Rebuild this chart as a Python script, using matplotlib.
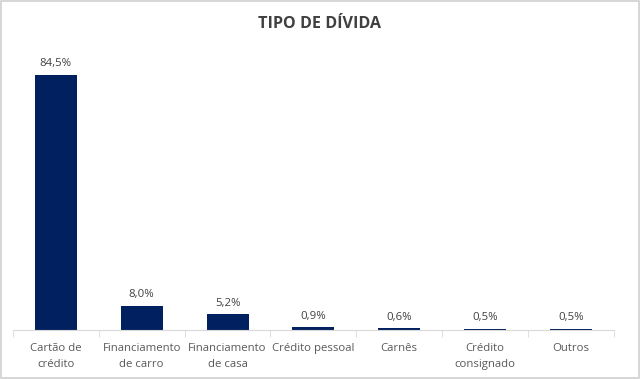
import matplotlib.pyplot as plt
from matplotlib.patches import Rectangle
import numpy as np

plt.rcParams['font.family'] = ['Open Sans', 'DejaVu Sans']

categorias = ['Cartão de\ncrédito', 'Financiamento\nde carro', 'Financiamento\nde casa',
              'Crédito pessoal', 'Carnês', 'Crédito\nconsignado', 'Outros']
valores = [84.5, 8.0, 5.2, 0.9, 0.6, 0.5, 0.5]
rotulos = ['84,5%', '8,0%', '5,2%', '0,9%', '0,6%', '0,5%', '0,5%']

fig = plt.figure(figsize=(6.4, 3.79), dpi=100)
ax = fig.add_axes([0.0203, 0.129, 0.9387, 0.718])

x = np.arange(len(categorias))
bars = ax.bar(x, valores, width=0.49, color='#002060')
for b, r in zip(bars, rotulos):
    ax.annotate(r, (b.get_x() + b.get_width() / 2, b.get_height()),
                xytext=(0, 4), textcoords='offset points',
                ha='center', va='bottom', fontsize=8.2, color='#404040')

ax.set_xlim(-0.5, len(categorias) - 0.5)
ax.set_ylim(0, 90)
ax.set_yticks([])
ax.set_xticks(x)
ax.set_xticklabels(categorias, fontsize=8.2, color='#595959', linespacing=1.65)
ax.tick_params(axis='x', length=0, pad=9)
ax.set_xticks(np.arange(-0.5, len(categorias)), minor=True)
ax.tick_params(axis='x', which='minor', length=5, color='#d9d9d9')
for s in ['top', 'right', 'left']:
    ax.spines[s].set_visible(False)
ax.spines['bottom'].set_color('#d9d9d9')

fig.text(0.5, 0.937, 'TIPO DE DÍVIDA', ha='center', va='center',
         fontsize=11.6, fontweight='bold', color='#404040')

fig.patches.append(Rectangle((0.001, 0.002), 0.997, 0.995, transform=fig.transFigure,
                             fill=False, edgecolor='#d0d0d0', linewidth=1.2))

fig.savefig('out.png', dpi=100)
